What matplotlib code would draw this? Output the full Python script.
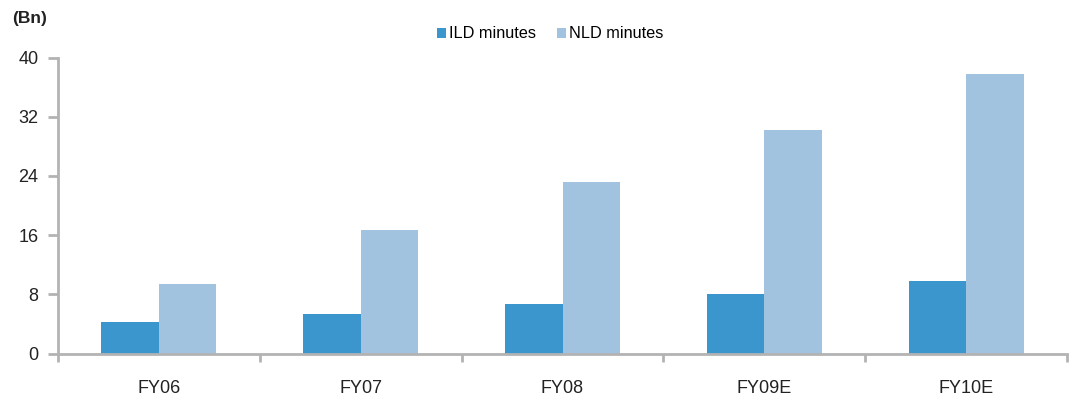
import numpy as np
import matplotlib.pyplot as plt

plt.rcParams['font.family'] = ['Liberation Sans', 'DejaVu Sans']

years = ['FY06', 'FY07', 'FY08', 'FY09E', 'FY10E']
ild = [4.3, 5.3, 6.7, 8.1, 9.8]
nld = [9.35, 16.7, 23.2, 30.2, 37.8]

ild_color = '#3a96cc'
nld_color = '#a1c3df'
axis_gray = '#b3b3b3'

fig = plt.figure(figsize=(10.76, 3.99), dpi=100)
ax = fig.add_axes([58 / 1076, (399 - 353.5) / 399, (1067 - 58) / 1076, (353.5 - 57.5) / 399])

x = np.arange(len(years))
w = 0.285
ax.bar(x - w / 2, ild, w, color=ild_color, label='ILD minutes')
ax.bar(x + w / 2, nld, w, color=nld_color, label='NLD minutes')

ax.set_xlim(-0.5, len(years) - 0.5)
ax.set_ylim(0, 40)
ax.set_yticks(range(0, 41, 8))

# boundary ticks between categories, labels sit on minor ticks
ax.set_xticks(np.arange(-0.5, len(years), 1))
ax.set_xticklabels([])
ax.set_xticks(x, minor=True)
ax.set_xticklabels(years, minor=True)
ax.tick_params(axis='x', which='minor', length=0, pad=19, labelsize=13, labelcolor='#222222')
ax.tick_params(axis='x', which='major', length=6, width=2, color=axis_gray)
ax.tick_params(axis='y', length=7, width=2, color=axis_gray, labelsize=13, labelcolor='#222222', pad=7)

for s in ['top', 'right']:
    ax.spines[s].set_visible(False)
for s in ['left', 'bottom']:
    ax.spines[s].set_color(axis_gray)
    ax.spines[s].set_linewidth(2)

fig.text(12 / 1076, 1 - 18 / 399, '(Bn)', fontsize=12.5, fontweight='bold', va='center', color='#222222')

fig.legend(loc='center', bbox_to_anchor=(550 / 1076, 1 - 34 / 399), ncol=2, frameon=False,
           fontsize=11.7, handlelength=0.55, handleheight=0.55, handletextpad=0.2, columnspacing=1.3)

fig.savefig('out.png', dpi=100)
